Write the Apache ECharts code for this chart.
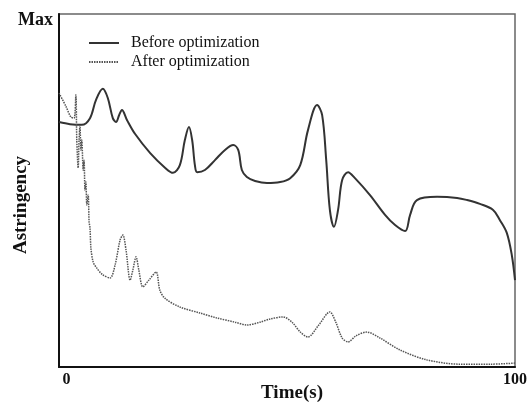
<!DOCTYPE html>
<html>
<head>
<meta charset="utf-8">
<script src="https://cdn.jsdelivr.net/npm/echarts@6/dist/echarts.min.js"></script>
<style>
  html, body { margin: 0; padding: 0; background: #fff; }
  #chart { width: 529px; height: 404px; }
</style>
</head>
<body>
<div id="chart"></div>
<script>
// 曲线数据 [时间(s), 相对涩度(0~100)]
const beforeOpt = [
  [0, 69.4], [2.4, 68.8], [5.0, 68.6], [6.8, 70.5], [8.1, 75.6], [9.6, 78.8],
  [10.7, 76.2], [11.8, 70.5], [12.5, 69.4], [13.2, 71.4], [13.8, 72.8],
  [14.9, 70.0], [16.7, 66.0], [20.0, 60.6], [23.3, 56.4], [25.0, 55.0],
  [26.5, 57.2], [27.6, 64.3], [28.5, 68.0], [29.2, 64.3], [29.8, 57.2],
  [30.3, 55.2], [32.0, 55.8], [34.2, 58.6], [36.4, 61.5], [38.2, 62.9],
  [39.3, 61.5], [40.1, 55.8], [41.2, 53.8], [43.0, 52.7], [45.6, 52.1],
  [48.5, 52.4], [50.7, 53.5], [52.9, 57.2], [54.6, 67.1], [56.6, 74.2],
  [57.7, 71.4], [58.6, 58.6], [59.4, 44.5], [60.3, 39.7], [61.2, 44.5],
  [62.1, 53.0], [63.4, 55.2], [64.9, 53.5], [68.2, 48.7], [71.5, 43.1],
  [73.7, 40.2], [75.9, 38.5], [77.0, 43.1], [78.5, 47.3], [82.9, 48.2],
  [87.3, 47.9], [89.5, 47.3], [92.3, 46.2], [95.2, 44.5], [96.7, 41.6],
  [98.2, 38.0], [99.3, 31.7], [100, 24.6]
];
const afterOpt = [
  [0, 77.6], [1.5, 73.9], [2.6, 70.8], [3.3, 70.5], [3.7, 77.1], [3.9, 64.3],
  [4.2, 56.4], [4.4, 64.3], [4.6, 68.3], [4.8, 61.5], [5.0, 64.3], [5.3, 55.8],
  [5.5, 58.6], [5.7, 50.1], [5.9, 52.4], [6.1, 45.9], [6.4, 48.7], [6.6, 41.1],
  [6.8, 39.4], [7.0, 33.7], [7.5, 29.7], [8.3, 28.0], [9.6, 26.1], [11.2, 25.2],
  [12.3, 28.9], [13.4, 36.0], [14.0, 37.4], [14.7, 33.1], [15.6, 24.6],
  [16.2, 27.5], [16.9, 31.2], [17.5, 27.5], [18.4, 22.7], [19.7, 24.6],
  [21.3, 26.9], [22.1, 21.8], [23.2, 19.5], [26.5, 17.0], [30.9, 15.3],
  [34.6, 13.9], [38.6, 12.7], [41.2, 11.9], [44.1, 12.7], [46.3, 13.6],
  [49.1, 14.2], [51.1, 12.7], [52.9, 9.9], [54.6, 8.5], [56.8, 11.6],
  [59.4, 15.6], [60.7, 12.7], [62.1, 8.2], [63.4, 7.1], [65.1, 8.8],
  [67.5, 9.9], [70.4, 8.2], [74.8, 4.8], [80.7, 2.0], [87.9, 0.8],
  [94.5, 0.8], [100, 1.1]
];
const seriesNames = ['Before optimization', 'After optimization'];
const xTicks = [0, 100];

const serif = '"Liberation Serif", "DejaVu Serif", serif';

const chart = echarts.init(document.getElementById('chart'));
chart.setOption({
  animation: false,
  backgroundColor: '#fff',
  grid: {
    left: 59, right: 14, top: 14, bottom: 37,
    outerBoundsMode: 'none',
    show: true, borderColor: '#666', borderWidth: 1.5
  },
  legend: {
    orient: 'vertical',
    left: 83, top: 30,
    itemWidth: 30, itemHeight: 10, itemGap: 3,
    itemStyle: { opacity: 0 },
    textStyle: { fontFamily: serif, fontSize: 16, color: '#111', padding: [0, 0, 0, 7] },
    data: seriesNames
  },
  xAxis: {
    type: 'value', min: xTicks[0], max: xTicks[1], interval: 100,
    axisLine: { lineStyle: { color: '#111', width: 2 } },
    axisTick: { show: false },
    splitLine: { show: false },
    axisLabel: {
      margin: 5,
      formatter: v => (v === 0 ? '{z|0}' : '{h|' + v + '}'),
      rich: {
        z: { fontFamily: serif, fontSize: 16, fontWeight: 'bold', color: '#111', padding: [0, 0, 0, 15] },
        h: { fontFamily: serif, fontSize: 16, fontWeight: 'bold', color: '#111', padding: [0, 0, 0, 0] }
      }
    },
    name: 'Time(s)',
    nameLocation: 'middle',
    nameGap: 17,
    nameMoveOverlap: false,
    nameTextStyle: { fontFamily: serif, fontSize: 19, fontWeight: 'bold', color: '#111', padding: [0, 0, 0, 10] }
  },
  yAxis: {
    type: 'value', min: 0, max: 100, interval: 100,
    axisLine: { show: true, lineStyle: { color: '#111', width: 2 } },
    axisTick: { show: false },
    splitLine: { show: false },
    axisLabel: {
      margin: 6,
      formatter: v => (v === 100 ? 'Max' : ''),
      fontFamily: serif, fontSize: 18, fontWeight: 'bold', color: '#111',
      verticalAlign: 'top', lineHeight: 12
    }
  },
  graphic: [{
    type: 'text',
    x: 21, y: 205,
    rotation: Math.PI / 2,
    style: {
      text: 'Astringency',
      fontFamily: serif, fontSize: 19, fontWeight: 'bold', fill: '#111',
      textAlign: 'center', textVerticalAlign: 'middle'
    }
  }],
  series: [
    {
      name: seriesNames[0], type: 'line', data: beforeOpt,
      smooth: 0.35, symbol: 'none',
      lineStyle: { color: '#333', width: 2 },
      itemStyle: { color: '#333' }
    },
    {
      name: seriesNames[1], type: 'line', data: afterOpt,
      smooth: 0.3, symbol: 'none',
      lineStyle: { color: '#555', width: 1.5, type: [1.5, 1] },
      itemStyle: { color: '#555' }
    }
  ]
});
</script>
</body>
</html>
